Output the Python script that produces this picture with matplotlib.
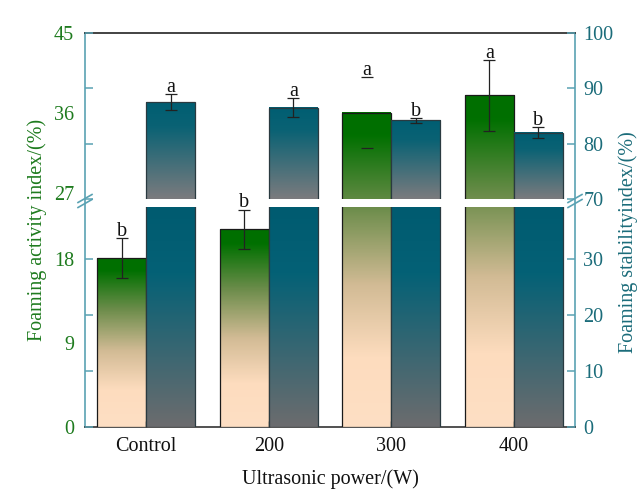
import numpy as np
import matplotlib
matplotlib.use('Agg')
import matplotlib.pyplot as plt
from matplotlib.colors import LinearSegmentedColormap

plt.rcParams['font.family'] = ['Liberation Serif', 'DejaVu Serif']

# ---------------- data ----------------
categories = ['Control', '200', '300', '400']
activity = [18.1, 21.2, 36.0, 38.0]
activity_err = [2.1, 2.1, 4.0, 4.0]
activity_letters = ['b', 'b', 'a', 'a']
stability = [87.5, 86.5, 84.2, 82.0]
stability_err = [1.5, 1.7, 0.4, 1.0]
stability_letters = ['a', 'a', 'b', 'b']

left_ticks_low = [0, 9, 18]
left_ticks_high = [27, 36, 45]
right_ticks_low = [0, 10, 20, 30]
right_ticks_high = [70, 80, 90, 100]

# ---------------- style ----------------
GREEN_TXT = '#1e7b1e'
TEAL_TXT = '#1b6c7a'
SPINE_TEAL = '#5aa2b3'
FS = 14.5
W, H = 640, 491

green_cmap = LinearSegmentedColormap.from_list('g', [
    (0.0, '#006f00'), (0.07, '#007000'), (0.30, '#6b8c4a'),
    (0.55, '#d2bb95'), (0.78, '#fddcbe'), (1.0, '#fedfc4')])
teal_up_cmap = LinearSegmentedColormap.from_list('tu', [
    (0.0, '#005e72'), (0.25, '#0a6274'), (1.0, '#7b7b7e')])
teal_lo_cmap = LinearSegmentedColormap.from_list('tl', [
    (0.0, '#005b70'), (0.30, '#046176'), (1.0, '#6c6c6e')])


def rect(x0, y0, x1, y1):
    return [x0 / W, 1 - y1 / H, (x1 - x0) / W, (y1 - y0) / H]


fig = plt.figure(figsize=(6.4, 4.91), dpi=100)
fig.patch.set_facecolor('white')

frame = fig.add_axes(rect(85, 33, 575, 427))
frame.set_xticks([])
frame.set_yticks([])
frame.spines['top'].set_color('#222222')
frame.spines['bottom'].set_color('#333333')
frame.spines['left'].set_color(SPINE_TEAL)
frame.spines['right'].set_color(SPINE_TEAL)
for s in frame.spines.values():
    s.set_linewidth(1.2)

ax_lt = fig.add_axes(rect(85, 33, 575, 199))
ax_lb = fig.add_axes(rect(85, 207, 575, 427))
for ax in (ax_lt, ax_lb):
    ax.patch.set_visible(False)
    for s in ax.spines.values():
        s.set_visible(False)
ax_rt = ax_lt.twinx()
ax_rb = ax_lb.twinx()
for ax in (ax_rt, ax_rb):
    ax.patch.set_visible(False)
    for s in ax.spines.values():
        s.set_visible(False)

xs = np.arange(len(categories))
bw = 0.4
for ax in (ax_lt, ax_lb, ax_rt, ax_rb):
    ax.set_autoscale_on(False)
    ax.set_xlim(-0.5, 3.5)
ax_lt.set_ylim(26.3, 45)
ax_rt.set_ylim(70, 100)
ax_lb.set_ylim(0, 23.57)
ax_rb.set_ylim(0, 39.3)


def disp_y(ax, y):
    return ax.transData.transform((0, y))[1]


def grad_image(ax, xc, lo, hi, cmap, top_d, bot_d):
    n = 300
    ys = np.linspace(hi, lo, n)
    d = np.array([disp_y(ax, y) for y in ys])
    f = np.clip((top_d - d) / (top_d - bot_d), 0, 1)
    img = cmap(f)[:, None, :]
    ax.imshow(img, extent=[xc - bw / 2, xc + bw / 2, lo, hi], aspect='auto',
              origin='upper', interpolation='bilinear', zorder=1)


# ---------- green bars (activity, left axes) ----------
bot_disp = disp_y(ax_lb, 0)
for i, v in enumerate(activity):
    xc = xs[i] - bw / 2
    top_ax = ax_lt if v > ax_lt.get_ylim()[0] else ax_lb
    top_d = disp_y(top_ax, v)
    for ax in (ax_lt, ax_lb):
        y0, y1 = ax.get_ylim()
        lo, hi = max(y0, 0), min(y1, v)
        if hi > lo:
            grad_image(ax, xc, lo, hi, green_cmap, top_d, bot_disp)
            ax.bar(xc, v, bw, fill=False, edgecolor='#1a1a1a', linewidth=0.9, zorder=2)
        ax.errorbar(xc, v, yerr=activity_err[i], fmt='none', ecolor='#222222',
                    elinewidth=0 if i == 2 else 0.9, capsize=4, capthick=0.9, zorder=3)
    ytxt = v + activity_err[i]
    tax = ax_lt if ytxt > ax_lt.get_ylim()[0] else ax_lb
    tax.annotate(activity_letters[i], (xc, ytxt), xytext=(0, 1.5),
                 textcoords='offset points', ha='center', va='baseline',
                 fontsize=FS, color='#111111', zorder=4)

# ---------- teal bars (stability, right axes) ----------
for i, v in enumerate(stability):
    xc = xs[i] + bw / 2
    # upper segment
    y0, y1 = ax_rt.get_ylim()
    grad_image(ax_rt, xc, y0, min(v, y1), teal_up_cmap, disp_y(ax_rt, v), disp_y(ax_rt, y0))
    ax_rt.bar(xc, v, bw, fill=False, edgecolor='#2a3a40', linewidth=0.9, zorder=2)
    # lower segment
    y0, y1 = ax_rb.get_ylim()
    grad_image(ax_rb, xc, 0, y1, teal_lo_cmap, disp_y(ax_rb, y1), disp_y(ax_rb, 0))
    ax_rb.bar(xc, v, bw, fill=False, edgecolor='#2a3a40', linewidth=0.9, zorder=2)
    ax_rt.errorbar(xc, v, yerr=stability_err[i], fmt='none', ecolor='#222222',
                   elinewidth=0.9, capsize=4, capthick=0.9, zorder=3)
    ax_rt.annotate(stability_letters[i], (xc, v + stability_err[i]), xytext=(0, 1.5),
                   textcoords='offset points', ha='center', va='baseline',
                   fontsize=FS, color='#111111', zorder=4)

for ax in (ax_lt, ax_lb, ax_rt, ax_rb):
    ax.set_xlim(-0.5, 3.5)
ax_lt.set_ylim(26.3, 45)
ax_rt.set_ylim(70, 100)
ax_lb.set_ylim(0, 23.57)
ax_rb.set_ylim(0, 39.3)

# ---------- ticks ----------
ax_lt.set_yticks(left_ticks_high)
ax_lb.set_yticks(left_ticks_low)
for ax in (ax_lt, ax_lb):
    ax.tick_params(axis='y', length=0, pad=8, labelcolor=GREEN_TXT, labelsize=FS)
ax_lt.tick_params(axis='x', bottom=False, labelbottom=False)

ax_rt.set_yticks(right_ticks_high)
ax_rb.set_yticks(right_ticks_low)
for ax in (ax_rt, ax_rb):
    ax.yaxis.set_ticks_position('both')
    ax.tick_params(axis='y', left=True, right=True, labelleft=False, labelright=True,
                   direction='in', length=6, width=1.1, color=SPINE_TEAL,
                   pad=6, labelcolor=TEAL_TXT, labelsize=FS)

ax_lb.set_xticks(xs)
ax_lb.set_xticklabels(categories)
ax_lb.tick_params(axis='x', direction='in', length=4, width=1.0, color='#333333',
                  pad=7, labelsize=FS, labelcolor='#111111')

# ---------- labels ----------
fig.text(330 / W, 1 - 479 / H, 'Ultrasonic power/(W)', ha='center', va='center',
         fontsize=FS, color='#111111')
fig.text(37 / W, 1 - 230 / H, 'Foaming activity index/(%)', ha='center', va='center',
         rotation=90, fontsize=FS, color=GREEN_TXT)
fig.text(628 / W, 1 - 242 / H, 'Foaming stabilityindex/(%)', ha='center', va='center',
         rotation=90, fontsize=FS, color=TEAL_TXT)

# ---------- break marks ----------
for xb in (85, 575):
    for dy in (-2.5, 2.5):
        fig.add_artist(plt.Line2D([(xb - 7) / W, (xb + 7) / W],
                                  [1 - (205 + dy) / H, 1 - (197 + dy) / H],
                                  color=SPINE_TEAL, lw=1.2))

fig.savefig('out.png', dpi=100, facecolor='white')
